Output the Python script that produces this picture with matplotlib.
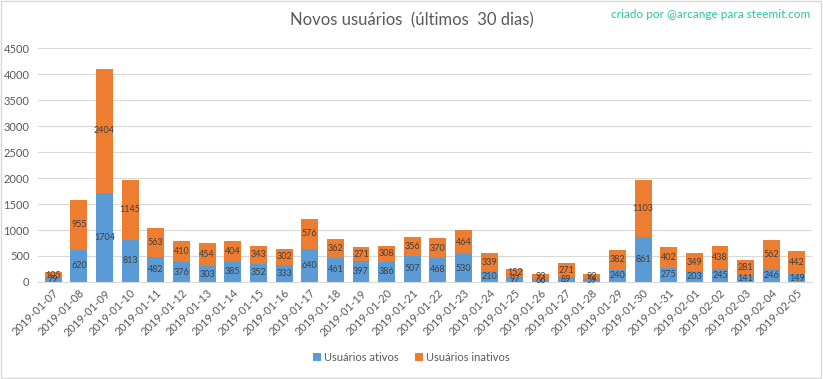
import numpy as np
import matplotlib
matplotlib.use("Agg")
import matplotlib.pyplot as plt

plt.rcParams['font.family'] = ['Lato', 'DejaVu Sans']

dates = ['2019-01-07', '2019-01-08', '2019-01-09', '2019-01-10', '2019-01-11',
         '2019-01-12', '2019-01-13', '2019-01-14', '2019-01-15', '2019-01-16',
         '2019-01-17', '2019-01-18', '2019-01-19', '2019-01-20', '2019-01-21',
         '2019-01-22', '2019-01-23', '2019-01-24', '2019-01-25', '2019-01-26',
         '2019-01-27', '2019-01-28', '2019-01-29', '2019-01-30', '2019-01-31',
         '2019-02-01', '2019-02-02', '2019-02-03', '2019-02-04', '2019-02-05']
ativos = [79, 620, 1704, 813, 482, 376, 303, 385, 352, 333,
          640, 461, 397, 386, 507, 468, 530, 210, 97, 66,
          89, 59, 240, 861, 275, 203, 245, 141, 246, 149]
inativos = [105, 955, 2404, 1145, 563, 410, 454, 404, 343, 302,
            576, 362, 271, 308, 356, 370, 464, 339, 152, 93,
            271, 92, 382, 1103, 402, 349, 438, 281, 562, 442]

blue = '#5B9BD5'
orange = '#ED7D31'

fig = plt.figure(figsize=(8.23, 3.79), dpi=100)
ax = fig.add_axes([0.046, 0.256, 0.941, 0.617])

x = np.arange(len(dates))
b1 = ax.bar(x, ativos, width=0.66, color=blue, label='Usuários ativos', zorder=2)
b2 = ax.bar(x, inativos, width=0.66, bottom=ativos, color=orange,
            label='Usuários inativos', zorder=2)

for i in range(len(dates)):
    ax.text(x[i], ativos[i] / 2, str(ativos[i]), ha='center', va='center',
            fontsize=6.5, color='#404040', zorder=3)
    ax.text(x[i], ativos[i] + inativos[i] / 2, str(inativos[i]), ha='center',
            va='center', fontsize=6.5, color='#404040', zorder=3)

ax.set_ylim(0, 4500)
ax.set_yticks(range(0, 4501, 500))
ax.set_xlim(-0.6, len(dates) - 0.4)
ax.set_xticks(x)
ax.set_xticklabels(dates, rotation=45, ha='right', rotation_mode='anchor',
                   fontsize=8, color='#595959')
ax.tick_params(axis='y', length=0, labelsize=8, labelcolor='#595959', pad=6)
ax.tick_params(axis='x', length=0, pad=4)
ax.grid(axis='y', color='#D9D9D9', linewidth=0.8, zorder=0)
for s in ['top', 'right', 'left']:
    ax.spines[s].set_visible(False)
ax.spines['bottom'].set_color('#D9D9D9')

fig.text(0.5, 0.945, 'Novos usuários  (últimos  30 dias)', ha='center',
         va='center', fontsize=12, color='#595959')
fig.text(0.985, 0.962, 'criado por @arcange para steemit.com', ha='right',
         va='center', fontsize=8.5, color='#2BC4A0')

fig.legend(handles=[b1, b2], loc='center', bbox_to_anchor=(0.5, 0.058),
           ncol=2, frameon=False, fontsize=8, handlelength=0.7,
           handleheight=0.7, handletextpad=0.3, columnspacing=1.5,
           labelcolor='#595959')

fig.patches.append(plt.Rectangle((0.001, 0.002), 0.997, 0.995, transform=fig.transFigure,
                                 fill=False, edgecolor='#D9D9D9', linewidth=1))

fig.savefig('out.png', dpi=100)
